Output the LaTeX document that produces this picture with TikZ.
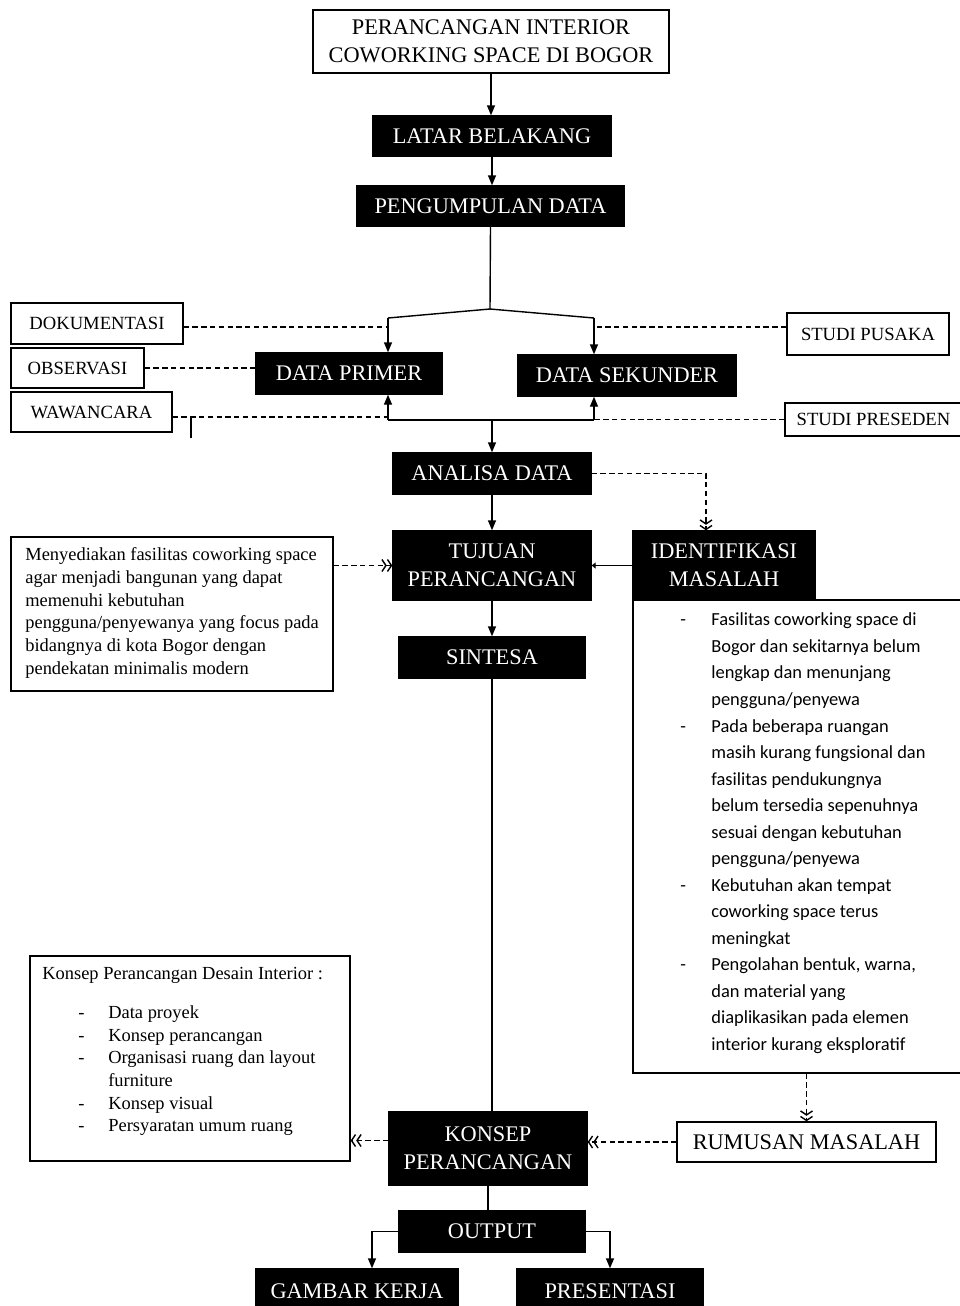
\documentclass[tikz,border=0pt]{standalone}
\usepackage{fontspec}
\setmainfont{Liberation Serif}
\newfontfamily\calibri{Carlito}
\usetikzlibrary{arrows.meta}

\begin{document}
\begin{tikzpicture}[x=0.02cm, y=-0.02cm,
	kotak/.style={draw, line width=0.8pt, fill=white, align=center, inner sep=0pt, font=\fontsize{12.7}{16}\selectfont},
	kotakhitam/.style={kotak, fill=black, text=white},
	kotakkecil/.style={kotak, font=\fontsize{10.6}{12}\selectfont},
	garis/.style={line width=0.8pt},
	panah/.style={garis, -{Triangle[length=0.2cm, width=0.16cm]}},
	putus/.style={garis, dash pattern=on 3pt off 2pt},
	panahputus/.style={putus, -{Straight Barb[length=0.08cm, width=0.24cm] Straight Barb[length=0.08cm, width=0.24cm]}}]
	\useasboundingbox (0,0) rectangle (960,1306);

	% alur utama
	\node[kotak, minimum width=7.12cm, minimum height=1.26cm] (judul) at (491,41.5) {PERANCANGAN INTERIOR\\COWORKING SPACE DI BOGOR};
	\node[kotakhitam, minimum width=4.76cm, minimum height=0.8cm] (latar) at (492,136) {LATAR BELAKANG};
	\node[kotakhitam, minimum width=5.34cm, minimum height=0.8cm] (kumpul) at (490.5,206) {PENGUMPULAN DATA};
	\node[kotakhitam, minimum width=3.72cm, minimum height=0.82cm] (primer) at (349,373.5) {DATA PRIMER};
	\node[kotakhitam, minimum width=4.36cm, minimum height=0.82cm] (sekunder) at (627,375.5) {DATA SEKUNDER};

	% sumber data
	\node[kotakkecil, minimum width=3.44cm, minimum height=0.82cm] (doku) at (97,323.5) {DOKUMENTASI};
	\node[kotakkecil, minimum width=2.66cm, minimum height=0.8cm] (obs) at (77.5,368) {OBSERVASI};
	\node[kotakkecil, minimum width=3.22cm, minimum height=0.8cm] (waw) at (91.5,412) {WAWANCARA};
	\node[kotakkecil, minimum width=3.24cm, minimum height=0.84cm] (pusaka) at (868,334) {STUDI PUSAKA};
	\node[kotakkecil, minimum width=3.54cm, minimum height=0.66cm] (preseden) at (873.5,419.5) {STUDI PRESEDEN};

	\node[kotakhitam, minimum width=3.96cm, minimum height=0.82cm] (analisa) at (492,473.5) {ANALISA DATA};
	\node[kotakhitam, minimum width=3.96cm, minimum height=1.38cm] (tujuan) at (492,565.5) {TUJUAN\\PERANCANGAN};
	\node[kotakhitam, minimum width=3.64cm, minimum height=1.38cm] (identifikasi) at (724,565.5) {IDENTIFIKASI\\MASALAH};

	% keterangan masalah
	\node[kotak, minimum width=6.64cm, minimum height=9.46cm] (masalah) at (799,836.5) {};
	\node[anchor=north west, inner sep=0pt, font=\calibri\fontsize{10.5}{15.1}\selectfont] (isimasalah) at (680,607) {%
		\begin{tabular}{@{}p{0.62cm}@{}l@{}}
		- & Fasilitas coworking space di\\
		  & Bogor dan sekitarnya belum\\
		  & lengkap dan menunjang\\
		  & pengguna/penyewa\\
		- & Pada beberapa ruangan\\
		  & masih kurang fungsional dan\\
		  & fasilitas pendukungnya\\
		  & belum tersedia sepenuhnya\\
		  & sesuai dengan kebutuhan\\
		  & pengguna/penyewa\\
		- & Kebutuhan akan tempat\\
		  & coworking space terus\\
		  & meningkat\\
		- & Pengolahan bentuk, warna,\\
		  & dan material yang\\
		  & diaplikasikan pada elemen\\
		  & interior kurang eksploratif
		\end{tabular}};

	% keterangan tujuan
	\node[kotak, minimum width=6.44cm, minimum height=3.08cm] (tujuanket) at (172,614) {};
	\node[anchor=north west, inner sep=0pt, font=\fontsize{10.5}{13}\selectfont] (isitujuan) at (25,544) {%
		\begin{tabular}{@{}l@{}}
		Menyediakan fasilitas coworking space\\
		agar menjadi bangunan yang dapat\\
		memenuhi kebutuhan\\
		pengguna/penyewanya yang focus pada\\
		bidangnya di kota Bogor dengan\\
		pendekatan minimalis modern
		\end{tabular}};

	\node[kotakhitam, minimum width=3.72cm, minimum height=0.82cm] (sintesa) at (492,657.5) {SINTESA};
	\node[kotak, minimum width=5.18cm, minimum height=0.8cm] (rumusan) at (806.5,1142) {RUMUSAN MASALAH};
	\node[kotakhitam, minimum width=3.96cm, minimum height=1.46cm] (konsep) at (488,1148.5) {KONSEP\\PERANCANGAN};

	% keterangan konsep
	\node[kotak, minimum width=6.4cm, minimum height=4.1cm] (konsepket) at (190,1058.5) {};
	\node[anchor=north west, inner sep=0pt, font=\fontsize{10.5}{12.9}\selectfont] (isikonsep) at (42,963) {%
		\begin{tabular}{@{}p{1.32cm}@{}l@{}}
		\multicolumn{2}{@{}l@{}}{Konsep Perancangan Desain Interior :}\\[0.33cm]
		\hspace*{0.72cm}- & Data proyek\\
		\hspace*{0.72cm}- & Konsep perancangan\\
		\hspace*{0.72cm}- & Organisasi ruang dan layout\\
		                  & furniture\\
		\hspace*{0.72cm}- & Konsep visual\\
		\hspace*{0.72cm}- & Persyaratan umum ruang
		\end{tabular}};

	\node[kotakhitam, minimum width=3.72cm, minimum height=0.82cm] (output) at (492,1231.5) {OUTPUT};
	\node[kotakhitam, minimum width=4.04cm, minimum height=0.9cm] (gambar) at (357,1291.5) {GAMBAR KERJA};
	\node[kotakhitam, minimum width=3.72cm, minimum height=0.9cm] (presentasi) at (610,1291.5) {PRESENTASI};

	% panah
	\draw[panah] (judul.south) -- (judul.south |- latar.north);
	\draw[panah] (latar.south) -- (latar.south |- kumpul.north);
	\coordinate (cabang) at (490,309);
	\coordinate (kiri) at (388,318);
	\coordinate (kanan) at (594,318);
	\draw[garis] (kumpul.south) -- (cabang);
	\draw[garis] (kiri) -- (cabang) -- (kanan);
	\draw[panah] (kiri) -- (kiri |- primer.north);
	\draw[panah] (kanan) -- (kanan |- sekunder.north);
	\coordinate (bawahkiri) at (388,420);
	\coordinate (bawahkanan) at (594,420);
	\draw[garis] (bawahkiri) -- (bawahkanan);
	\draw[panah] (bawahkiri) -- (bawahkiri |- primer.south);
	\draw[panah] (bawahkanan) -- (bawahkanan |- sekunder.south);
	\draw[panah] (bawahkiri -| analisa.north) -- (analisa.north);

	\draw[putus] ([yshift=-0.07cm]doku.east) -- ([yshift=-0.07cm]doku.east -| kiri);
	\draw[putus] (obs.east) -- (obs.east -| primer.west);
	\coordinate (tik) at (191,417);
	\draw[putus] (waw.east |- tik) -- (tik -| bawahkiri);
	\draw[garis] (tik) -- ++(0,21);
	\draw[putus] ([yshift=0.14cm]pusaka.west) -- ([yshift=0.14cm]pusaka.west -| kanan);
	\draw[putus] (preseden.west) -- (preseden.west -| kanan);

	\draw[panahputus] (analisa.east) -| ([xshift=-0.36cm]identifikasi.north);
	\draw[panah] (analisa.south) -- (tujuan.north);
	\draw[garis, -{Triangle[length=0.08cm, width=0.12cm]}] (identifikasi.west) -- (tujuan.east);
	\draw[panahputus] (tujuanket.east |- tujuan.west) -- (tujuan.west);
	\draw[panah] (tujuan.south) -- (sintesa.north);
	\draw[garis] (sintesa.south) -- (sintesa.south |- konsep.north);
	\draw[panahputus] (rumusan.north |- masalah.south) -- (rumusan.north);
	\draw[panahputus] (rumusan.west) -- (rumusan.west -| konsep.east);
	\draw[panahputus] ([yshift=0.16cm]konsep.west) -- ([yshift=0.16cm]konsep.west -| konsepket.east);
	\draw[garis] (konsep.south) -- (konsep.south |- output.north);
	\draw[panah] (output.west) -| ([xshift=0.3cm]gambar.north);
	\draw[panah] (output.east) -| (presentasi.north);

\end{tikzpicture}
\end{document}
